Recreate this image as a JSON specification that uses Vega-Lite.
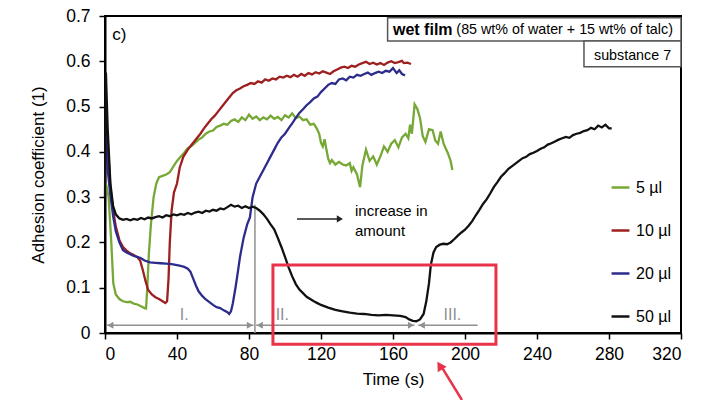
{
  "$schema": "https://vega.github.io/schema/vega-lite/v6.json",
  "width": 576,
  "height": 317,
  "autosize": "none",
  "padding": {"left": 105, "top": 16, "right": 41, "bottom": 67},
  "background": "white",
  "config": {
    "font": "Liberation Sans",
    "view": {"stroke": "black", "strokeWidth": 2},
    "axis": {
      "labelFont": "Liberation Sans", "labelFontSize": 17.5, "labelColor": "black",
      "titleFont": "Liberation Sans", "titleFontSize": 17, "titleFontWeight": "normal", "titleColor": "black",
      "domainColor": "black", "domainWidth": 2, "tickColor": "black", "tickWidth": 1.5, "tickSize": 6, "grid": false
    },
    "text": {"font": "Liberation Sans"}
  },
  "datasets": {
    "curves": [
      {"s":"5 µl","t":0.5,"v":0.33},{"s":"5 µl","t":2,"v":0.3},{"s":"5 µl","t":3.5,"v":0.2},{"s":"5 µl","t":4.6,"v":0.11},{"s":"5 µl","t":6,"v":0.085},{"s":"5 µl","t":8,"v":0.075},{"s":"5 µl","t":10,"v":0.07},{"s":"5 µl","t":12,"v":0.068},{"s":"5 µl","t":14,"v":0.069},{"s":"5 µl","t":16,"v":0.065},{"s":"5 µl","t":18,"v":0.063},{"s":"5 µl","t":20,"v":0.059},{"s":"5 µl","t":22,"v":0.055},{"s":"5 µl","t":22.8,"v":0.054},{"s":"5 µl","t":23.5,"v":0.1},{"s":"5 µl","t":24.3,"v":0.17},{"s":"5 µl","t":25.5,"v":0.24},{"s":"5 µl","t":27,"v":0.3},{"s":"5 µl","t":28.5,"v":0.33},{"s":"5 µl","t":30,"v":0.344},{"s":"5 µl","t":32,"v":0.347},{"s":"5 µl","t":34,"v":0.35},{"s":"5 µl","t":36,"v":0.355},{"s":"5 µl","t":38,"v":0.368},{"s":"5 µl","t":40,"v":0.38},{"s":"5 µl","t":42,"v":0.389},{"s":"5 µl","t":44,"v":0.398},{"s":"5 µl","t":46,"v":0.408},{"s":"5 µl","t":48,"v":0.413},{"s":"5 µl","t":50,"v":0.42},{"s":"5 µl","t":52,"v":0.427},{"s":"5 µl","t":54,"v":0.432},{"s":"5 µl","t":56,"v":0.44},{"s":"5 µl","t":58,"v":0.445},{"s":"5 µl","t":60,"v":0.447},{"s":"5 µl","t":62,"v":0.455},{"s":"5 µl","t":64,"v":0.458},{"s":"5 µl","t":66,"v":0.462},{"s":"5 µl","t":68,"v":0.46},{"s":"5 µl","t":70,"v":0.468},{"s":"5 µl","t":72,"v":0.472},{"s":"5 µl","t":74,"v":0.466},{"s":"5 µl","t":76,"v":0.476},{"s":"5 µl","t":78,"v":0.47},{"s":"5 µl","t":80,"v":0.482},{"s":"5 µl","t":82,"v":0.473},{"s":"5 µl","t":84,"v":0.478},{"s":"5 µl","t":86,"v":0.47},{"s":"5 µl","t":88,"v":0.476},{"s":"5 µl","t":90,"v":0.472},{"s":"5 µl","t":92,"v":0.48},{"s":"5 µl","t":94,"v":0.473},{"s":"5 µl","t":96,"v":0.477},{"s":"5 µl","t":98,"v":0.47},{"s":"5 µl","t":100,"v":0.481},{"s":"5 µl","t":102,"v":0.476},{"s":"5 µl","t":104,"v":0.485},{"s":"5 µl","t":106,"v":0.474},{"s":"5 µl","t":108,"v":0.478},{"s":"5 µl","t":110,"v":0.47},{"s":"5 µl","t":112,"v":0.472},{"s":"5 µl","t":114,"v":0.46},{"s":"5 µl","t":116,"v":0.462},{"s":"5 µl","t":117.6,"v":0.452},{"s":"5 µl","t":119,"v":0.44},{"s":"5 µl","t":120,"v":0.42},{"s":"5 µl","t":121,"v":0.412},{"s":"5 µl","t":122,"v":0.428},{"s":"5 µl","t":123,"v":0.405},{"s":"5 µl","t":124,"v":0.385},{"s":"5 µl","t":125,"v":0.375},{"s":"5 µl","t":126,"v":0.382},{"s":"5 µl","t":128,"v":0.372},{"s":"5 µl","t":130,"v":0.378},{"s":"5 µl","t":132,"v":0.372},{"s":"5 µl","t":134,"v":0.37},{"s":"5 µl","t":136,"v":0.375},{"s":"5 µl","t":137,"v":0.358},{"s":"5 µl","t":138,"v":0.366},{"s":"5 µl","t":140,"v":0.35},{"s":"5 µl","t":141.7,"v":0.322},{"s":"5 µl","t":143,"v":0.37},{"s":"5 µl","t":145,"v":0.405},{"s":"5 µl","t":147,"v":0.38},{"s":"5 µl","t":149,"v":0.39},{"s":"5 µl","t":151,"v":0.372},{"s":"5 µl","t":153,"v":0.39},{"s":"5 µl","t":155,"v":0.412},{"s":"5 µl","t":157,"v":0.4},{"s":"5 µl","t":159,"v":0.418},{"s":"5 µl","t":161,"v":0.426},{"s":"5 µl","t":163,"v":0.41},{"s":"5 µl","t":165,"v":0.432},{"s":"5 µl","t":167,"v":0.44},{"s":"5 µl","t":168.5,"v":0.43},{"s":"5 µl","t":169.5,"v":0.46},{"s":"5 µl","t":170.5,"v":0.44},{"s":"5 µl","t":172,"v":0.505},{"s":"5 µl","t":173.5,"v":0.495},{"s":"5 µl","t":175,"v":0.475},{"s":"5 µl","t":176.5,"v":0.435},{"s":"5 µl","t":178,"v":0.422},{"s":"5 µl","t":180,"v":0.45},{"s":"5 µl","t":182,"v":0.448},{"s":"5 µl","t":183.5,"v":0.425},{"s":"5 µl","t":185,"v":0.418},{"s":"5 µl","t":186.5,"v":0.445},{"s":"5 µl","t":188,"v":0.42},{"s":"5 µl","t":189,"v":0.41},{"s":"5 µl","t":190.5,"v":0.397},{"s":"5 µl","t":192,"v":0.38},{"s":"5 µl","t":193,"v":0.36},
      {"s":"10 µl","t":0.5,"v":0.5},{"s":"10 µl","t":1.5,"v":0.42},{"s":"10 µl","t":3,"v":0.32},{"s":"10 µl","t":4.6,"v":0.27},{"s":"10 µl","t":6,"v":0.235},{"s":"10 µl","t":8,"v":0.205},{"s":"10 µl","t":10,"v":0.19},{"s":"10 µl","t":12,"v":0.182},{"s":"10 µl","t":14,"v":0.176},{"s":"10 µl","t":16,"v":0.172},{"s":"10 µl","t":18,"v":0.167},{"s":"10 µl","t":19.5,"v":0.16},{"s":"10 µl","t":21,"v":0.139},{"s":"10 µl","t":22.5,"v":0.115},{"s":"10 µl","t":24,"v":0.095},{"s":"10 µl","t":26,"v":0.085},{"s":"10 µl","t":28,"v":0.079},{"s":"10 µl","t":30,"v":0.075},{"s":"10 µl","t":32,"v":0.07},{"s":"10 µl","t":33.5,"v":0.066},{"s":"10 µl","t":34.5,"v":0.07},{"s":"10 µl","t":35.3,"v":0.12},{"s":"10 µl","t":36,"v":0.2},{"s":"10 µl","t":37,"v":0.27},{"s":"10 µl","t":38.3,"v":0.31},{"s":"10 µl","t":40,"v":0.33},{"s":"10 µl","t":41.5,"v":0.365},{"s":"10 µl","t":43.5,"v":0.389},{"s":"10 µl","t":46,"v":0.405},{"s":"10 µl","t":48,"v":0.415},{"s":"10 µl","t":51,"v":0.43},{"s":"10 µl","t":53,"v":0.44},{"s":"10 µl","t":55,"v":0.452},{"s":"10 µl","t":57,"v":0.462},{"s":"10 µl","t":59,"v":0.472},{"s":"10 µl","t":61,"v":0.48},{"s":"10 µl","t":63,"v":0.49},{"s":"10 µl","t":65,"v":0.5},{"s":"10 µl","t":67,"v":0.51},{"s":"10 µl","t":69,"v":0.52},{"s":"10 µl","t":71,"v":0.53},{"s":"10 µl","t":73,"v":0.536},{"s":"10 µl","t":75,"v":0.54},{"s":"10 µl","t":77,"v":0.545},{"s":"10 µl","t":79,"v":0.548},{"s":"10 µl","t":81,"v":0.552},{"s":"10 µl","t":83,"v":0.55},{"s":"10 µl","t":85,"v":0.556},{"s":"10 µl","t":87,"v":0.553},{"s":"10 µl","t":89,"v":0.56},{"s":"10 µl","t":91,"v":0.557},{"s":"10 µl","t":93,"v":0.562},{"s":"10 µl","t":95,"v":0.56},{"s":"10 µl","t":97,"v":0.566},{"s":"10 µl","t":99,"v":0.564},{"s":"10 µl","t":101,"v":0.568},{"s":"10 µl","t":103,"v":0.565},{"s":"10 µl","t":105,"v":0.57},{"s":"10 µl","t":107,"v":0.566},{"s":"10 µl","t":109,"v":0.572},{"s":"10 µl","t":111,"v":0.568},{"s":"10 µl","t":113,"v":0.574},{"s":"10 µl","t":115,"v":0.571},{"s":"10 µl","t":117,"v":0.576},{"s":"10 µl","t":119,"v":0.573},{"s":"10 µl","t":121,"v":0.578},{"s":"10 µl","t":123,"v":0.575},{"s":"10 µl","t":125,"v":0.572},{"s":"10 µl","t":127,"v":0.578},{"s":"10 µl","t":129,"v":0.582},{"s":"10 µl","t":131,"v":0.586},{"s":"10 µl","t":133,"v":0.588},{"s":"10 µl","t":135,"v":0.585},{"s":"10 µl","t":137,"v":0.59},{"s":"10 µl","t":139,"v":0.588},{"s":"10 µl","t":141,"v":0.593},{"s":"10 µl","t":143,"v":0.596},{"s":"10 µl","t":145,"v":0.599},{"s":"10 µl","t":147,"v":0.594},{"s":"10 µl","t":149,"v":0.597},{"s":"10 µl","t":151,"v":0.593},{"s":"10 µl","t":153,"v":0.596},{"s":"10 µl","t":155,"v":0.592},{"s":"10 µl","t":157,"v":0.597},{"s":"10 µl","t":159,"v":0.6},{"s":"10 µl","t":161,"v":0.596},{"s":"10 µl","t":163,"v":0.598},{"s":"10 µl","t":165,"v":0.601},{"s":"10 µl","t":166,"v":0.596},{"s":"10 µl","t":168,"v":0.597},{"s":"10 µl","t":170,"v":0.594},
      {"s":"20 µl","t":0.5,"v":0.45},{"s":"20 µl","t":1.5,"v":0.36},{"s":"20 µl","t":2.8,"v":0.31},{"s":"20 µl","t":4.6,"v":0.256},{"s":"20 µl","t":6,"v":0.225},{"s":"20 µl","t":8,"v":0.2},{"s":"20 µl","t":10,"v":0.183},{"s":"20 µl","t":12,"v":0.178},{"s":"20 µl","t":14,"v":0.174},{"s":"20 µl","t":16,"v":0.17},{"s":"20 µl","t":18,"v":0.168},{"s":"20 µl","t":20,"v":0.165},{"s":"20 µl","t":22,"v":0.16},{"s":"20 µl","t":25,"v":0.156},{"s":"20 µl","t":28,"v":0.155},{"s":"20 µl","t":31,"v":0.154},{"s":"20 µl","t":34,"v":0.153},{"s":"20 µl","t":37,"v":0.152},{"s":"20 µl","t":40,"v":0.15},{"s":"20 µl","t":42,"v":0.148},{"s":"20 µl","t":44,"v":0.146},{"s":"20 µl","t":46,"v":0.142},{"s":"20 µl","t":47.5,"v":0.135},{"s":"20 µl","t":49,"v":0.12},{"s":"20 µl","t":50.5,"v":0.105},{"s":"20 µl","t":52,"v":0.092},{"s":"20 µl","t":54,"v":0.082},{"s":"20 µl","t":56,"v":0.074},{"s":"20 µl","t":58,"v":0.068},{"s":"20 µl","t":60,"v":0.062},{"s":"20 µl","t":62,"v":0.057},{"s":"20 µl","t":64,"v":0.055},{"s":"20 µl","t":66,"v":0.05},{"s":"20 µl","t":68,"v":0.046},{"s":"20 µl","t":69,"v":0.042},{"s":"20 µl","t":70,"v":0.048},{"s":"20 µl","t":71,"v":0.065},{"s":"20 µl","t":72.5,"v":0.1},{"s":"20 µl","t":74,"v":0.14},{"s":"20 µl","t":75,"v":0.168},{"s":"20 µl","t":77,"v":0.21},{"s":"20 µl","t":79,"v":0.24},{"s":"20 µl","t":80.5,"v":0.255},{"s":"20 µl","t":82,"v":0.3},{"s":"20 µl","t":84,"v":0.33},{"s":"20 µl","t":86,"v":0.345},{"s":"20 µl","t":88,"v":0.36},{"s":"20 µl","t":90,"v":0.375},{"s":"20 µl","t":92,"v":0.39},{"s":"20 µl","t":94,"v":0.405},{"s":"20 µl","t":96,"v":0.42},{"s":"20 µl","t":98,"v":0.432},{"s":"20 µl","t":100,"v":0.44},{"s":"20 µl","t":102,"v":0.452},{"s":"20 µl","t":104,"v":0.463},{"s":"20 µl","t":106,"v":0.475},{"s":"20 µl","t":108,"v":0.486},{"s":"20 µl","t":110,"v":0.494},{"s":"20 µl","t":112,"v":0.503},{"s":"20 µl","t":114,"v":0.51},{"s":"20 µl","t":116,"v":0.518},{"s":"20 µl","t":118,"v":0.522},{"s":"20 µl","t":120,"v":0.532},{"s":"20 µl","t":122,"v":0.54},{"s":"20 µl","t":124,"v":0.548},{"s":"20 µl","t":126,"v":0.552},{"s":"20 µl","t":128,"v":0.55},{"s":"20 µl","t":130,"v":0.56},{"s":"20 µl","t":132,"v":0.562},{"s":"20 µl","t":134,"v":0.558},{"s":"20 µl","t":136,"v":0.566},{"s":"20 µl","t":138,"v":0.564},{"s":"20 µl","t":140,"v":0.57},{"s":"20 µl","t":142,"v":0.568},{"s":"20 µl","t":144,"v":0.572},{"s":"20 µl","t":146,"v":0.575},{"s":"20 µl","t":148,"v":0.57},{"s":"20 µl","t":150,"v":0.574},{"s":"20 µl","t":152,"v":0.577},{"s":"20 µl","t":154,"v":0.574},{"s":"20 µl","t":156,"v":0.579},{"s":"20 µl","t":158,"v":0.577},{"s":"20 µl","t":160,"v":0.585},{"s":"20 µl","t":162,"v":0.574},{"s":"20 µl","t":163.5,"v":0.58},{"s":"20 µl","t":165,"v":0.572},{"s":"20 µl","t":166.7,"v":0.569},
      {"s":"50 µl","t":0,"v":0.3},{"s":"50 µl","t":0.5,"v":0.575},{"s":"50 µl","t":1.5,"v":0.45},{"s":"50 µl","t":3,"v":0.33},{"s":"50 µl","t":4.5,"v":0.28},{"s":"50 µl","t":6,"v":0.262},{"s":"50 µl","t":8,"v":0.253},{"s":"50 µl","t":10,"v":0.25},{"s":"50 µl","t":12,"v":0.252},{"s":"50 µl","t":14,"v":0.249},{"s":"50 µl","t":16,"v":0.252},{"s":"50 µl","t":18,"v":0.25},{"s":"50 µl","t":20,"v":0.254},{"s":"50 µl","t":22,"v":0.251},{"s":"50 µl","t":24,"v":0.255},{"s":"50 µl","t":26,"v":0.253},{"s":"50 µl","t":28,"v":0.256},{"s":"50 µl","t":30,"v":0.258},{"s":"50 µl","t":32,"v":0.255},{"s":"50 µl","t":34,"v":0.26},{"s":"50 µl","t":36,"v":0.258},{"s":"50 µl","t":38,"v":0.262},{"s":"50 µl","t":40,"v":0.26},{"s":"50 µl","t":42,"v":0.263},{"s":"50 µl","t":44,"v":0.261},{"s":"50 µl","t":46,"v":0.265},{"s":"50 µl","t":48,"v":0.262},{"s":"50 µl","t":50,"v":0.266},{"s":"50 µl","t":52,"v":0.268},{"s":"50 µl","t":54,"v":0.265},{"s":"50 µl","t":56,"v":0.27},{"s":"50 µl","t":58,"v":0.268},{"s":"50 µl","t":60,"v":0.272},{"s":"50 µl","t":62,"v":0.27},{"s":"50 µl","t":64,"v":0.275},{"s":"50 µl","t":66,"v":0.273},{"s":"50 µl","t":68,"v":0.278},{"s":"50 µl","t":70,"v":0.283},{"s":"50 µl","t":72,"v":0.279},{"s":"50 µl","t":74,"v":0.281},{"s":"50 µl","t":76,"v":0.276},{"s":"50 µl","t":78,"v":0.28},{"s":"50 µl","t":80,"v":0.276},{"s":"50 µl","t":82,"v":0.279},{"s":"50 µl","t":84,"v":0.276},{"s":"50 µl","t":86,"v":0.27},{"s":"50 µl","t":88,"v":0.262},{"s":"50 µl","t":90,"v":0.252},{"s":"50 µl","t":92,"v":0.24},{"s":"50 µl","t":94,"v":0.229},{"s":"50 µl","t":96,"v":0.21},{"s":"50 µl","t":98,"v":0.19},{"s":"50 µl","t":100,"v":0.168},{"s":"50 µl","t":102,"v":0.145},{"s":"50 µl","t":104,"v":0.125},{"s":"50 µl","t":106,"v":0.108},{"s":"50 µl","t":108,"v":0.096},{"s":"50 µl","t":110,"v":0.088},{"s":"50 µl","t":112,"v":0.08},{"s":"50 µl","t":114,"v":0.075},{"s":"50 µl","t":116,"v":0.07},{"s":"50 µl","t":118,"v":0.066},{"s":"50 µl","t":120,"v":0.062},{"s":"50 µl","t":124,"v":0.056},{"s":"50 µl","t":128,"v":0.051},{"s":"50 µl","t":132,"v":0.048},{"s":"50 µl","t":136,"v":0.045},{"s":"50 µl","t":140,"v":0.043},{"s":"50 µl","t":144,"v":0.042},{"s":"50 µl","t":148,"v":0.04},{"s":"50 µl","t":152,"v":0.039},{"s":"50 µl","t":156,"v":0.04},{"s":"50 µl","t":160,"v":0.039},{"s":"50 µl","t":164,"v":0.038},{"s":"50 µl","t":167,"v":0.035},{"s":"50 µl","t":169,"v":0.03},{"s":"50 µl","t":171,"v":0.027},{"s":"50 µl","t":173,"v":0.026},{"s":"50 µl","t":175,"v":0.03},{"s":"50 µl","t":177,"v":0.042},{"s":"50 µl","t":178.5,"v":0.07},{"s":"50 µl","t":180,"v":0.11},{"s":"50 µl","t":181,"v":0.15},{"s":"50 µl","t":182.5,"v":0.178},{"s":"50 µl","t":184,"v":0.19},{"s":"50 µl","t":186,"v":0.195},{"s":"50 µl","t":188,"v":0.197},{"s":"50 µl","t":190,"v":0.196},{"s":"50 µl","t":192,"v":0.2},{"s":"50 µl","t":194,"v":0.207},{"s":"50 µl","t":196,"v":0.215},{"s":"50 µl","t":198,"v":0.222},{"s":"50 µl","t":200,"v":0.228},{"s":"50 µl","t":202,"v":0.237},{"s":"50 µl","t":204,"v":0.247},{"s":"50 µl","t":206,"v":0.26},{"s":"50 µl","t":208,"v":0.272},{"s":"50 µl","t":210,"v":0.285},{"s":"50 µl","t":212,"v":0.295},{"s":"50 µl","t":214,"v":0.308},{"s":"50 µl","t":216,"v":0.322},{"s":"50 µl","t":218,"v":0.333},{"s":"50 µl","t":220,"v":0.345},{"s":"50 µl","t":222,"v":0.353},{"s":"50 µl","t":224,"v":0.362},{"s":"50 µl","t":226,"v":0.368},{"s":"50 µl","t":228,"v":0.374},{"s":"50 µl","t":230,"v":0.38},{"s":"50 µl","t":232,"v":0.386},{"s":"50 µl","t":234,"v":0.389},{"s":"50 µl","t":236,"v":0.395},{"s":"50 µl","t":238,"v":0.398},{"s":"50 µl","t":240,"v":0.402},{"s":"50 µl","t":242,"v":0.407},{"s":"50 µl","t":244,"v":0.41},{"s":"50 µl","t":246,"v":0.416},{"s":"50 µl","t":248,"v":0.419},{"s":"50 µl","t":250,"v":0.423},{"s":"50 µl","t":252,"v":0.427},{"s":"50 µl","t":254,"v":0.43},{"s":"50 µl","t":256,"v":0.433},{"s":"50 µl","t":258,"v":0.431},{"s":"50 µl","t":260,"v":0.437},{"s":"50 µl","t":262,"v":0.44},{"s":"50 µl","t":264,"v":0.442},{"s":"50 µl","t":266,"v":0.446},{"s":"50 µl","t":268,"v":0.448},{"s":"50 µl","t":270,"v":0.453},{"s":"50 µl","t":272,"v":0.45},{"s":"50 µl","t":274,"v":0.458},{"s":"50 µl","t":276,"v":0.454},{"s":"50 µl","t":278,"v":0.46},{"s":"50 µl","t":280,"v":0.452},{"s":"50 µl","t":281.5,"v":0.452}
    ],
    "boxes": [
      {"x1": 157, "x2": 320, "y1": 0.645, "y2": 0.696},
      {"x1": 266.1, "x2": 320, "y1": 0.588, "y2": 0.645}
    ],
    "texts": [
      {"label": "c)", "t": 4, "v": 0.659, "style": "big"},
      {"label": "wet film", "t": 160, "v": 0.669, "style": "bold"},
      {"label": "(85 wt% of water + 15 wt% of talc)", "t": 315.5, "v": 0.669, "style": "right"},
      {"label": "substance 7", "t": 314.5, "v": 0.612, "style": "right"},
      {"label": "increase in", "t": 138.9, "v": 0.27, "style": "left"},
      {"label": "amount", "t": 138.9, "v": 0.225, "style": "left"},
      {"label": "I.", "t": 44, "v": 0.04, "style": "gray"},
      {"label": "II.", "t": 98.5, "v": 0.04, "style": "gray"},
      {"label": "III.", "t": 193, "v": 0.04, "style": "gray"}
    ],
    "rules": [
      {"x1": 1, "x2": 82.5, "y1": 0.017, "y2": 0.017, "c": "#909090"},
      {"x1": 84, "x2": 172, "y1": 0.017, "y2": 0.017, "c": "#909090"},
      {"x1": 174, "x2": 207, "y1": 0.017, "y2": 0.017, "c": "#909090"},
      {"x1": 83.3, "x2": 83.3, "y1": 0, "y2": 0.283, "c": "#909090"},
      {"x1": 106.7, "x2": 129, "y1": 0.252, "y2": 0.252, "c": "#222222"}
    ],
    "heads": [
      {"t": 3, "v": 0.017, "shape": "triangle-left", "c": "#909090"},
      {"t": 80.5, "v": 0.017, "shape": "triangle-right", "c": "#909090"},
      {"t": 86, "v": 0.017, "shape": "triangle-left", "c": "#909090"},
      {"t": 170, "v": 0.017, "shape": "triangle-right", "c": "#909090"},
      {"t": 176, "v": 0.017, "shape": "triangle-left", "c": "#909090"},
      {"t": 130.5, "v": 0.252, "shape": "triangle-right", "c": "#222222"}
    ],
    "redbox": [{"x1": 93.3, "x2": 217.2, "y1": -0.025, "y2": 0.15}],
    "redarrow": [{"x1": 198.3, "x2": 187, "y1": -0.148, "y2": -0.075}],
    "redhead": [{"t": 186, "v": -0.072}]
  },
  "layer": [
    {
      "data": {"name": "boxes"},
      "mark": {"type": "rect", "fill": "white", "stroke": "#555555", "strokeWidth": 1.5},
      "encoding": {
        "x": {"field": "x1", "type": "quantitative", "scale": {"domain": [0, 320], "nice": false}},
        "x2": {"field": "x2"},
        "y": {"field": "y1", "type": "quantitative", "scale": {"domain": [0, 0.7], "nice": false}},
        "y2": {"field": "y2"}
      }
    },
    {
      "data": {"name": "rules"},
      "mark": {"type": "rule", "strokeWidth": 1.5},
      "encoding": {
        "x": {"field": "x1", "type": "quantitative"},
        "x2": {"field": "x2"},
        "y": {"field": "y1", "type": "quantitative"},
        "y2": {"field": "y2"},
        "color": {"field": "c", "type": "nominal", "scale": null}
      }
    },
    {
      "data": {"name": "heads"},
      "mark": {"type": "point", "filled": true, "size": 50, "opacity": 1},
      "encoding": {
        "x": {"field": "t", "type": "quantitative"},
        "y": {"field": "v", "type": "quantitative"},
        "shape": {"field": "shape", "type": "nominal", "scale": null},
        "color": {"field": "c", "type": "nominal", "scale": null}
      }
    },
    {
      "data": {"name": "curves"},
      "mark": {"type": "line", "strokeWidth": 2.3, "interpolate": "linear"},
      "encoding": {
        "x": {
          "field": "t", "type": "quantitative",
          "scale": {"domain": [0, 320], "nice": false},
          "axis": {"title": "Time (s)", "values": [0, 40, 80, 120, 160, 200, 240, 280, 320], "labelPadding": 6, "titlePadding": 9}
        },
        "y": {
          "field": "v", "type": "quantitative",
          "scale": {"domain": [0, 0.7], "nice": false},
          "axis": {"title": "Adhesion coefficient (1)", "values": [0, 0.1, 0.2, 0.3, 0.4, 0.5, 0.6, 0.7], "format": "~g", "labelPadding": 9, "titlePadding": 18}
        },
        "color": {
          "field": "s", "type": "nominal",
          "scale": {"domain": ["5 µl", "10 µl", "20 µl", "50 µl"], "range": ["#76a836", "#9e1f1f", "#2d2b8c", "#111111"]},
          "legend": {
            "title": null, "orient": "none", "legendX": 505, "legendY": 161,
            "symbolType": "stroke", "symbolSize": 320, "symbolStrokeWidth": 2.5,
            "labelFontSize": 16, "labelFont": "Liberation Sans", "labelColor": "black",
            "rowPadding": 24, "labelOffset": 5
          }
        },
        "detail": {"field": "s"}
      }
    },
    {
      "data": {"name": "texts"},
      "transform": [{"filter": "datum.style == 'left'"}],
      "mark": {"type": "text", "fontSize": 15, "baseline": "middle", "align": "left", "color": "black"},
      "encoding": {
        "x": {"field": "t", "type": "quantitative"},
        "y": {"field": "v", "type": "quantitative"},
        "text": {"field": "label"}
      }
    },
    {
      "data": {"name": "texts"},
      "transform": [{"filter": "datum.style == 'big'"}],
      "mark": {"type": "text", "fontSize": 17, "baseline": "middle", "align": "left", "color": "black"},
      "encoding": {
        "x": {"field": "t", "type": "quantitative"},
        "y": {"field": "v", "type": "quantitative"},
        "text": {"field": "label"}
      }
    },
    {
      "data": {"name": "texts"},
      "transform": [{"filter": "datum.style == 'right'"}],
      "mark": {"type": "text", "fontSize": 14.3, "baseline": "middle", "align": "right", "color": "black"},
      "encoding": {
        "x": {"field": "t", "type": "quantitative"},
        "y": {"field": "v", "type": "quantitative"},
        "text": {"field": "label"}
      }
    },
    {
      "data": {"name": "texts"},
      "transform": [{"filter": "datum.style == 'bold'"}],
      "mark": {"type": "text", "fontSize": 16, "fontWeight": "bold", "baseline": "middle", "align": "left", "color": "black"},
      "encoding": {
        "x": {"field": "t", "type": "quantitative"},
        "y": {"field": "v", "type": "quantitative"},
        "text": {"field": "label"}
      }
    },
    {
      "data": {"name": "texts"},
      "transform": [{"filter": "datum.style == 'gray'"}],
      "mark": {"type": "text", "fontSize": 16, "baseline": "middle", "align": "center", "color": "#909090"},
      "encoding": {
        "x": {"field": "t", "type": "quantitative"},
        "y": {"field": "v", "type": "quantitative"},
        "text": {"field": "label"}
      }
    },
    {
      "data": {"name": "redbox"},
      "mark": {"type": "rect", "fill": null, "fillOpacity": 0, "stroke": "#e8334a", "strokeWidth": 3},
      "encoding": {
        "x": {"field": "x1", "type": "quantitative"},
        "x2": {"field": "x2"},
        "y": {"field": "y1", "type": "quantitative"},
        "y2": {"field": "y2"}
      }
    },
    {
      "data": {"name": "redarrow"},
      "mark": {"type": "rule", "stroke": "#e8334a", "strokeWidth": 2.5},
      "encoding": {
        "x": {"field": "x1", "type": "quantitative"},
        "x2": {"field": "x2"},
        "y": {"field": "y1", "type": "quantitative"},
        "y2": {"field": "y2"}
      }
    },
    {
      "data": {"name": "redhead"},
      "mark": {"type": "point", "shape": "triangle-up", "filled": true, "color": "#e8334a", "size": 110, "angle": 328, "opacity": 1},
      "encoding": {
        "x": {"field": "t", "type": "quantitative"},
        "y": {"field": "v", "type": "quantitative"}
      }
    }
  ]
}
